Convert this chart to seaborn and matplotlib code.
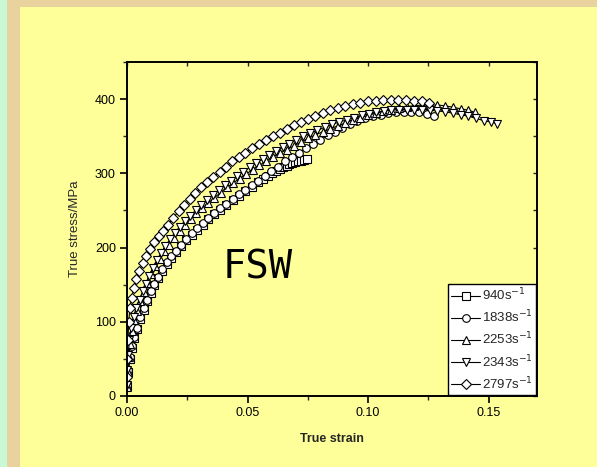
import matplotlib
matplotlib.use("Agg")
import matplotlib.pyplot as plt
import seaborn as sns
import pandas as pd
from matplotlib.patches import Rectangle
from matplotlib.ticker import MultipleLocator

sns.set_style("ticks")
plt.rcParams['font.family'] = ['Liberation Sans', 'DejaVu Sans']

# ---------------- data ----------------
labels = ["940s$^{-1}$", "1838s$^{-1}$", "2253s$^{-1}$", "2343s$^{-1}$", "2797s$^{-1}$"]
markers = ["s", "o", "^", "v", "D"]

strain_940 = [0.0002, 0.0006, 0.0012, 0.002, 0.003, 0.0042, 0.0055, 0.0069, 0.0084, 0.0098,
              0.0113, 0.0129, 0.0146, 0.0164, 0.0183, 0.0203, 0.0224, 0.0246, 0.0268, 0.0291,
              0.0314, 0.0338, 0.0362, 0.0387, 0.0412, 0.0438, 0.0464, 0.049, 0.0517, 0.0544,
              0.0565, 0.0585, 0.0603, 0.062, 0.0635, 0.0649, 0.0662, 0.0674, 0.0686, 0.0698,
              0.071, 0.0722, 0.0734, 0.0746]
stress_940 = [13, 33, 50, 65, 78, 90, 104, 116, 128, 139,
              149, 159, 169, 178, 186, 194, 202, 210, 217, 224,
              231, 238, 245, 251, 257, 264, 270, 276, 282, 288,
              293, 297, 300, 303, 306, 308, 310, 312, 314, 315,
              316, 317, 318, 319]

strain_1838 = [0.0002, 0.0006, 0.0012, 0.002, 0.003, 0.0042, 0.0055, 0.0069, 0.0084, 0.0098,
               0.0113, 0.0129, 0.0146, 0.0164, 0.0183, 0.0203, 0.0224, 0.0246, 0.0268, 0.0291,
               0.0314, 0.0338, 0.0362, 0.0387, 0.0412, 0.0438, 0.0464, 0.049, 0.0517, 0.0544,
               0.0571, 0.0599, 0.0627, 0.0655, 0.0684, 0.0713, 0.0742, 0.0772, 0.0802, 0.0832,
               0.0863, 0.0894, 0.0925, 0.0956, 0.0988, 0.102, 0.1052, 0.1084, 0.1116, 0.1148,
               0.118, 0.1212, 0.1244, 0.1275]
stress_1838 = [15, 35, 52, 67, 80, 92, 106, 118, 130, 141,
               151, 161, 171, 180, 188, 196, 204, 212, 219, 226,
               233, 240, 247, 253, 259, 266, 272, 278, 284, 290,
               297, 303, 309, 316, 322, 328, 334, 340, 345, 351,
               356, 361, 366, 370, 374, 377, 379, 381, 382, 383,
               383, 382, 380, 377]

strain_2253 = [0.0, 0.0003, 0.0007, 0.0013, 0.0021, 0.0031, 0.0043, 0.0056, 0.007, 0.0085,
               0.0101, 0.0118, 0.0136, 0.0155, 0.0175, 0.0196, 0.0218, 0.0241, 0.0264, 0.0288,
               0.0312, 0.0337, 0.0362, 0.0388, 0.0414, 0.044, 0.0467, 0.0494, 0.0521, 0.0549,
               0.0577, 0.0605, 0.0634, 0.0663, 0.0692, 0.0722, 0.0752, 0.0782, 0.0813, 0.0844,
               0.0875, 0.0906, 0.0937, 0.0968, 0.1, 0.1032, 0.1064, 0.1096, 0.1128, 0.116,
               0.1192, 0.1224, 0.1256, 0.1288, 0.132, 0.1352, 0.1384, 0.1416, 0.1445]
stress_2253 = [12, 32, 52, 70, 87, 102, 115, 128, 140, 152,
               164, 175, 185, 195, 204, 213, 222, 230, 238, 246,
               253, 260, 267, 274, 281, 287, 293, 299, 305, 311,
               316, 322, 327, 332, 337, 342, 347, 352, 356, 360,
               364, 368, 372, 375, 378, 381, 384, 386, 388, 390,
               391, 392, 392, 392, 391, 389, 387, 385, 382]

strain_2343 = [0.0, 0.0002, 0.0005, 0.001, 0.0017, 0.0027, 0.0039, 0.0052, 0.0066, 0.0079,
               0.0093, 0.0108, 0.0124, 0.0141, 0.0159, 0.0178, 0.0198, 0.0219, 0.024, 0.0262,
               0.0285, 0.0308, 0.0332, 0.0356, 0.0381, 0.0406, 0.0431, 0.0457, 0.0483, 0.0509,
               0.0536, 0.0563, 0.059, 0.0618, 0.0646, 0.0674, 0.0703, 0.0732, 0.0761, 0.079,
               0.082, 0.085, 0.088, 0.0911, 0.0942, 0.0973, 0.1004, 0.1035, 0.1066, 0.1097,
               0.1128, 0.116, 0.1192, 0.1224, 0.1256, 0.1288, 0.132, 0.1352, 0.1384, 0.1416,
               0.1448, 0.148, 0.1512, 0.1535]
stress_2343 = [15, 35, 55, 75, 92, 107, 119, 130, 141, 151,
               162, 173, 183, 193, 202, 211, 220, 228, 236, 243,
               250, 257, 264, 271, 277, 284, 290, 296, 302, 308,
               314, 319, 325, 330, 335, 340, 345, 350, 354, 358,
               362, 366, 369, 372, 375, 378, 380, 382, 384, 385,
               386, 386, 386, 386, 385, 384, 383, 381, 379, 377,
               374, 371, 369, 367]

strain_2797 = [0.0, 0.0002, 0.0004, 0.0007, 0.0012, 0.0019, 0.0028, 0.0039, 0.0051, 0.0065,
               0.008, 0.0096, 0.0113, 0.0131, 0.0151, 0.0171, 0.0192, 0.0214, 0.0237, 0.026,
               0.0284, 0.0308, 0.0333, 0.0358, 0.0384, 0.041, 0.0437, 0.0464, 0.0491, 0.0519,
               0.0547, 0.0575, 0.0604, 0.0633, 0.0662, 0.0692, 0.0722, 0.0752, 0.0782, 0.0813,
               0.0844, 0.0875, 0.0906, 0.0937, 0.0968, 0.1, 0.1031, 0.1063, 0.1094, 0.1126,
               0.1158, 0.119, 0.1222, 0.1254]
stress_2797 = [25, 50, 75, 100, 118, 132, 145, 157, 168, 179,
               189, 198, 207, 215, 222, 231, 240, 249, 257, 265,
               273, 281, 288, 295, 302, 309, 316, 322, 328, 334,
               340, 345, 350, 355, 360, 365, 369, 373, 377, 381,
               385, 388, 391, 393, 395, 397, 398, 399, 399, 399,
               399, 398, 397, 395]

x_ticks = [0.00, 0.05, 0.10, 0.15]
y_ticks = [0, 100, 200, 300, 400]

series = [(strain_940, stress_940), (strain_1838, stress_1838), (strain_2253, stress_2253),
          (strain_2343, stress_2343), (strain_2797, stress_2797)]

# ---------------- figure ----------------
BG = "#FFFF99"
fig = plt.figure(figsize=(5.97, 4.67), dpi=100, facecolor=BG)
fig.patches.append(Rectangle((0, 0), 7/597, 1, transform=fig.transFigure,
                             facecolor="#C8F8D4", edgecolor="none", zorder=0))
fig.patches.append(Rectangle((7/597, 0), 13/597, 1, transform=fig.transFigure,
                             facecolor="#EAD29E", edgecolor="none", zorder=0))
fig.patches.append(Rectangle((7/597, 1 - 7/467), 1, 7/467, transform=fig.transFigure,
                             facecolor="#EAD29E", edgecolor="none", zorder=0))

ax = fig.add_axes([127/597, 1 - 396/467, 410/597, 334/467])
ax.set_facecolor(BG)

for (sx, sy), lab, mk in zip(series, labels, markers):
    df = pd.DataFrame({"strain": sx, "stress": sy})
    sns.lineplot(data=df, x="strain", y="stress", ax=ax, sort=False, estimator=None,
                 color="black", linewidth=0.8, marker=mk,
                 markersize=5.5 if mk != "D" else 5.0,
                 markerfacecolor="white", markeredgecolor="black", markeredgewidth=0.8,
                 label=lab)

ax.set_xlim(0, 0.1701)
ax.set_ylim(0, 450)
ax.set_xticks(x_ticks)
ax.set_xticklabels([f"{t:.2f}" for t in x_ticks])
ax.set_yticks(y_ticks)
ax.xaxis.set_minor_locator(MultipleLocator(0.025))
ax.yaxis.set_minor_locator(MultipleLocator(50))
ax.tick_params(which="major", direction="out", length=5, width=1.2, labelsize=9,
               colors="black", pad=3)
ax.tick_params(which="minor", direction="out", length=3, width=1.0)

# inward ticks on top and right spines
sec_top = ax.secondary_xaxis("top")
sec_top.set_xticks(x_ticks)
sec_top.xaxis.set_minor_locator(MultipleLocator(0.025))
sec_top.tick_params(which="both", direction="in", length=3, width=1.0, labeltop=False)
sec_right = ax.secondary_yaxis("right")
sec_right.set_yticks(y_ticks)
sec_right.yaxis.set_minor_locator(MultipleLocator(50))
sec_right.tick_params(which="both", direction="in", length=3, width=1.0, labelright=False)
for sec in (sec_top, sec_right):
    for sp in sec.spines.values():
        sp.set_visible(False)

for sp in ax.spines.values():
    sp.set_linewidth(1.4)
    sp.set_color("black")

ax.set_xlabel("True strain", fontsize=9, fontweight="bold", labelpad=10)
ax.set_ylabel("True stress/MPa", fontsize=9.5, labelpad=10)

ax.text(0.318, 0.385, "FSW", transform=ax.transAxes, fontsize=28, fontweight="normal",
        family="DejaVu Sans Mono", ha="center", va="center", color="black")

leg = ax.legend(loc="lower right", fontsize=9.5, frameon=True, fancybox=False,
                edgecolor="black", facecolor="white", framealpha=1,
                borderaxespad=0.1, handlelength=2.2, handletextpad=0.15,
                labelspacing=0.42, borderpad=0.2)
leg.get_frame().set_linewidth(1.0)

fig.savefig("out.png", dpi=100, facecolor=BG)
